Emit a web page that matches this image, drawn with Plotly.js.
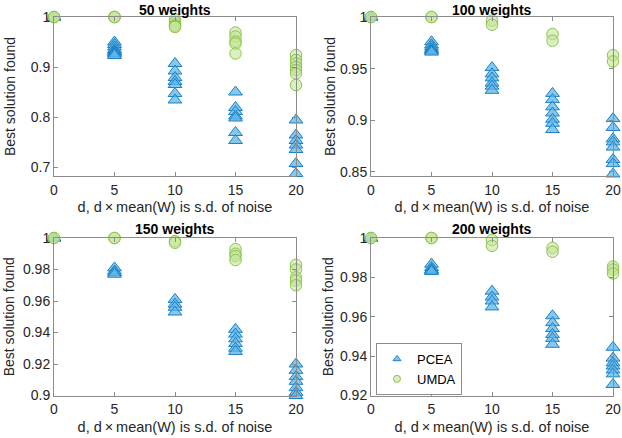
<!DOCTYPE html>
<html><head><meta charset="utf-8">
<script src="https://cdn.plot.ly/plotly-3.0.1.min.js"></script>
<style>html,body{margin:0;padding:0;background:#fff}</style>
</head><body><div id="chart" style="width:622px;height:438px"></div>
<script>
const dValues = [0, 5, 10, 15, 20];
const panelTitles = ['50 weights', '100 weights', '150 weights', '200 weights'];
const xTickVals = [0, 5, 10, 15, 20];

// Best solution found, one list per d value
const pcea50 = [
  [1, 1, 1],
  [0.95, 0.945, 0.94, 0.935, 0.932, 0.93, 0.928, 0.926, 0.923],
  [0.907, 0.892, 0.879, 0.871, 0.865, 0.847, 0.834],
  [0.85, 0.819, 0.811, 0.802, 0.798, 0.769, 0.753],
  [0.794, 0.764, 0.753, 0.744, 0.735, 0.707, 0.687]
];
const umda50 = [
  [1, 1, 1],
  [1, 1, 1],
  [0.995, 0.99, 0.985, 0.982, 0.98],
  [0.969, 0.961, 0.951, 0.947, 0.927],
  [0.924, 0.914, 0.907, 0.9, 0.894, 0.887, 0.864]
];
const pcea100 = [
  [1, 1, 1],
  [0.976, 0.973, 0.971, 0.969, 0.968, 0.967, 0.966],
  [0.951, 0.945, 0.941, 0.936, 0.933, 0.929],
  [0.926, 0.92, 0.913, 0.907, 0.901, 0.897, 0.891],
  [0.9016, 0.893, 0.882, 0.879, 0.874, 0.862, 0.858, 0.848]
];
const umda100 = [
  [1, 1],
  [1, 1],
  [0.9965, 0.9925],
  [0.9835, 0.977],
  [0.963, 0.957]
];
const pcea150 = [
  [1, 1],
  [0.981, 0.979, 0.978, 0.977],
  [0.961, 0.958, 0.956, 0.953],
  [0.942, 0.939, 0.936, 0.933, 0.93, 0.928],
  [0.92, 0.916, 0.912, 0.909, 0.905, 0.902, 0.9]
];
const umda150 = [
  [1, 1],
  [1, 1],
  [0.998, 0.997],
  [0.993, 0.99, 0.9885, 0.986],
  [0.983, 0.98, 0.975, 0.973, 0.97]
];
const pcea200 = [
  [1, 1],
  [0.9867, 0.985, 0.984, 0.9835, 0.983],
  [0.973, 0.97, 0.968, 0.965],
  [0.9605, 0.957, 0.954, 0.951, 0.949, 0.946],
  [0.9445, 0.939, 0.9366, 0.935, 0.933, 0.931, 0.9256]
];
const umda200 = [
  [1, 1],
  [1, 1],
  [0.999, 0.996],
  [0.995, 0.993],
  [0.9855, 0.984, 0.982]
];

const yRanges = [[0.682, 1], [0.846, 1], [0.9, 1], [0.92, 1]];
const yTicks = [
  [0.7, 0.8, 0.9, 1],
  [0.85, 0.9, 0.95, 1],
  [0.9, 0.92, 0.94, 0.96, 0.98, 1],
  [0.92, 0.94, 0.96, 0.98, 1]
];
const yTickText = [
  ['0.7', '0.8', '0.9', '1'],
  ['0.85', '0.9', '0.95', '1'],
  ['0.9', '0.92', '0.94', '0.96', '0.98', '1'],
  ['0.92', '0.94', '0.96', '0.98', '1']
];

const W = 622, H = 438;
const xDom = [[54 / W, 296 / W], [371 / W, 613 / W], [54 / W, 296 / W], [371 / W, 613 / W]];
const yDom = [[1 - 176 / H, 1 - 17 / H], [1 - 176 / H, 1 - 17 / H], [1 - 395.5 / H, 1 - 238 / H], [1 - 395.5 / H, 1 - 238 / H]];
const yStandoff = [11, 1, 5, 3];
const titleCenterY = [10, 10, 229, 229];

const FONT = 'Liberation Sans, Arial, Helvetica, sans-serif';
const triFill = 'rgba(92,182,232,0.75)';
const triLine = 'rgb(28,128,196)';
const cirFill = 'rgba(196,228,150,0.6)';
const cirLine = 'rgb(140,196,80)';
const axisCol = '#8c8c8c';

function flatten(groups) {
  const x = [], y = [];
  groups.forEach((g, i) => g.forEach(v => { x.push(dValues[i]); y.push(v); }));
  return {x, y};
}

const pceaAll = [pcea50, pcea100, pcea150, pcea200];
const umdaAll = [umda50, umda100, umda150, umda200];
const traces = [];
for (let p = 0; p < 4; p++) {
  const ax = p === 0 ? '' : String(p + 1);
  const a = flatten(pceaAll[p]);
  traces.push({
    type: 'scatter', mode: 'markers', x: a.x, y: a.y, xaxis: 'x' + ax, yaxis: 'y' + ax,
    showlegend: false, cliponaxis: false, name: 'PCEA',
    marker: {symbol: 'triangle-up', size: 12, color: triFill, line: {color: triLine, width: 1}}
  });
  const b = flatten(umdaAll[p]);
  traces.push({
    type: 'scatter', mode: 'markers', x: b.x, y: b.y, xaxis: 'x' + ax, yaxis: 'y' + ax,
    showlegend: false, cliponaxis: false, name: 'UMDA',
    marker: {symbol: 'circle', size: 11.5, color: cirFill, line: {color: cirLine, width: 1}}
  });
}
// legend entries (panel 4)
traces.push({type: 'scatter', mode: 'markers', x: [null], y: [null], xaxis: 'x4', yaxis: 'y4', name: 'PCEA',
  marker: {symbol: 'triangle-up', size: 7, color: triFill, line: {color: triLine, width: 1}}});
traces.push({type: 'scatter', mode: 'markers', x: [null], y: [null], xaxis: 'x4', yaxis: 'y4', name: 'UMDA',
  marker: {symbol: 'circle', size: 7, color: cirFill, line: {color: cirLine, width: 1}}});

const layout = {
  width: W, height: H,
  margin: {l: 0, r: 0, t: 0, b: 0},
  paper_bgcolor: '#fff', plot_bgcolor: '#fff',
  font: {family: FONT, size: 14, color: '#262626'},
  showlegend: true,
  legend: {x: 376 / W, y: 1 - 395 / H, xanchor: 'left', yanchor: 'bottom',
    bgcolor: '#fff', bordercolor: axisCol, borderwidth: 1,
    font: {family: FONT, size: 13, color: '#000'}, tracegroupgap: 0},
  annotations: []
};
for (let p = 0; p < 4; p++) {
  const ax = p === 0 ? '' : String(p + 1);
  const common = {showgrid: false, zeroline: false, showline: true, mirror: 'ticks',
    linecolor: axisCol, linewidth: 1, ticks: 'inside', ticklen: 4, tickcolor: axisCol,
    tickfont: {family: FONT, size: 14, color: '#262626'}};
  layout['xaxis' + ax] = Object.assign({}, common, {
    domain: xDom[p], range: [0, 20], tickvals: xTickVals, ticktext: xTickVals.map(String),
    anchor: 'y' + ax, ticklabelstandoff: 1,
    title: {text: 'd, d\u2009×\u2009mean(W) is s.d. of noise', font: {family: FONT, size: 14.5, color: '#262626'}, standoff: 5}
  });
  layout['yaxis' + ax] = Object.assign({}, common, {
    domain: yDom[p], range: yRanges[p], tickvals: yTicks[p], ticktext: yTickText[p],
    anchor: 'x' + ax,
    title: {text: 'Best solution found', font: {family: FONT, size: 14, color: '#262626'}, standoff: yStandoff[p]}
  });
  layout.annotations.push({
    text: '<b>' + panelTitles[p] + '</b>', xref: 'paper', yref: 'paper',
    x: (xDom[p][0] + xDom[p][1]) / 2, y: 1 - titleCenterY[p] / H, xanchor: 'center', yanchor: 'middle',
    borderpad: 0, showarrow: false, font: {family: FONT, size: 14, color: '#000'}
  });
}
Plotly.newPlot('chart', traces, layout, {displayModeBar: false, staticPlot: true});
</script></body></html>
